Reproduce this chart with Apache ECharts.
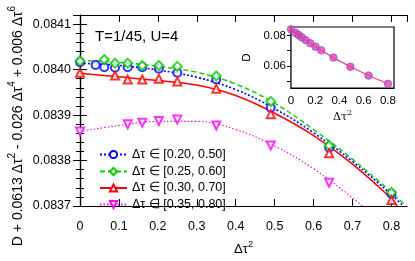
<!DOCTYPE html>
<html><head><meta charset="utf-8">
<script src="https://cdn.jsdelivr.net/npm/echarts@6/dist/echarts.min.js"></script>
<style>html,body{margin:0;padding:0;background:#fff}#c{width:415px;height:261px}</style>
</head><body><div id="c"></div>
<script>
// ---- data ----
const seriesNames = ['Δτ ∈ [0.20, 0.50]', 'Δτ ∈ [0.25, 0.60]', 'Δτ ∈ [0.30, 0.70]', 'Δτ ∈ [0.35, 0.80]'];
const blueX = [0, 0.04, 0.0625, 0.09, 0.1225, 0.16, 0.2025, 0.25, 0.35, 0.49, 0.64, 0.80];
const blueY = [0.084016, 0.08401, 0.084005, 0.084004, 0.084005, 0.084005, 0.084002, 0.083993, 0.083978, 0.083916, 0.083828, 0.083727];
const greenX = [0, 0.0625, 0.09, 0.1225, 0.16, 0.2025, 0.25, 0.35, 0.49, 0.64, 0.80];
const greenY = [0.084019, 0.084022, 0.084014, 0.084014, 0.084009, 0.084009, 0.084007, 0.083986, 0.08393, 0.083833, 0.08373];
const redX = [0, 0.09, 0.1225, 0.16, 0.2025, 0.25, 0.35, 0.49, 0.64, 0.80];
const redY = [0.083993, 0.083987, 0.083978, 0.083978, 0.08398, 0.083974, 0.083958, 0.083902, 0.083816, 0.083713];
const pinkX = [0, 0.1225, 0.16, 0.2025, 0.25, 0.35, 0.49, 0.64];
const pinkY = [0.083864, 0.08388, 0.083883, 0.083887, 0.08389, 0.083877, 0.083833, 0.083751];
// fit curves
const blueCurveX = [0, 0.1, 0.2, 0.3, 0.4, 0.5, 0.6, 0.7, 0.8, 0.83];
const blueCurveY = [0.084014, 0.084009, 0.083999, 0.083983, 0.083956, 0.083914, 0.083861, 0.083798, 0.083725, 0.0837];
const greenCurveX = [0, 0.1, 0.2, 0.3, 0.4, 0.5, 0.6, 0.7, 0.8, 0.838];
const greenCurveY = [0.08402, 0.084016, 0.084007, 0.083994, 0.083968, 0.083926, 0.083868, 0.083803, 0.08373, 0.0837];
const redCurveX = [0, 0.1, 0.2, 0.3, 0.4, 0.5, 0.6, 0.7, 0.8, 0.815];
const redCurveY = [0.083992, 0.083984, 0.083976, 0.083966, 0.083943, 0.083904, 0.083855, 0.083792, 0.083716, 0.0837];
const pinkCurveX = [0, 0.1, 0.2, 0.3, 0.4, 0.5, 0.6, 0.7, 0.725];
const pinkCurveY = [0.083864, 0.083877, 0.083886, 0.083886, 0.083868, 0.083832, 0.083782, 0.083718, 0.0837];
// inset: D vs dtau^2
const insetX = [0, 0.04, 0.0625, 0.09, 0.1225, 0.16, 0.2025, 0.25, 0.35, 0.49, 0.64, 0.80];
const insetD = [0.08399, 0.0816, 0.08027, 0.07868, 0.07685, 0.07481, 0.07258, 0.07018, 0.06543, 0.0594, 0.05366, 0.04824];
const insetXTicks = [0, 0.2, 0.4, 0.6, 0.8];
const insetYLabels = [0.06, 0.08];
const insetYTicks = [0.05, 0.06, 0.07, 0.08];

const zip = (xs, ys) => xs.map((x, i) => [x, ys[i]]);
const FONT = 'Liberation Sans';
const chart = echarts.init(document.getElementById('c'), null, {renderer: 'canvas'});

const colors = ['#0000ff', '#00cc00', '#ff0000', '#ff00ff'];
const symbols = ['emptyCircle', 'emptyDiamond', 'emptyTriangle', 'emptyTriangle'];
const symSizes = [8, 9, 8, 8];
const rot = [0, 0, 0, 180];
const lineTypes = [[2, 2], [5, 3], 'solid', [1.5, 2]];
const lineWidths = [1.6, 1.4, 1.5, 1.1];
const pts = [zip(blueX, blueY), zip(greenX, greenY), zip(redX, redY), zip(pinkX, pinkY)];
const curves = [zip(blueCurveX, blueCurveY), zip(greenCurveX, greenCurveY), zip(redCurveX, redCurveY), zip(pinkCurveX, pinkCurveY)];

const series = [];
for (let i = 0; i < 4; i++) {
  series.push({
    name: seriesNames[i], type: 'line', xAxisIndex: 0, yAxisIndex: 0,
    data: curves[i], smooth: 0.4, showSymbol: false, symbol: symbols[i], symbolRotate: rot[i],
    lineStyle: {color: colors[i], width: lineWidths[i], type: lineTypes[i]},
    itemStyle: {color: colors[i]}, z: 2, silent: true, clip: true
  });
}
for (let i = 0; i < 4; i++) {
  series.push({
    name: seriesNames[i], type: 'scatter', xAxisIndex: 0, yAxisIndex: 0,
    data: pts[i], symbol: symbols[i], symbolRotate: rot[i], symbolSize: symSizes[i],
    itemStyle: {color: colors[i], borderWidth: 1.2}, z: 3
  });
}
// inset
series.push({type: 'line', xAxisIndex: 2, yAxisIndex: 2, data: zip(insetX, insetD), showSymbol: false,
  lineStyle: {color: '#ff3399', width: 1.2}, z: 5});
series.push({type: 'scatter', xAxisIndex: 2, yAxisIndex: 2, data: zip(insetX, insetD), symbol: 'circle', symbolSize: 7.5,
  itemStyle: {color: '#f0409a', borderColor: '#6a5cff', borderWidth: 1}, z: 6});

const legendTops = [143, 160, 176.5, 193];
const legends = seriesNames.map((n, i) => ({
  data: [n], orient: 'vertical', left: 94, top: legendTops[i], itemWidth: 27, itemHeight: 9,
  textStyle: {fontFamily: FONT, fontSize: 12.5, color: '#000'}, selectedMode: false
}));

const tickStyle = {lineStyle: {color: '#000', width: 1}};
const rich = (fs, ss, lh) => ({n: {fontFamily: FONT, fontSize: fs, fill: '#000', color: '#000', verticalAlign: 'bottom', lineHeight: lh},
                             s: {fontFamily: FONT, fontSize: ss, fill: '#000', color: '#000', verticalAlign: 'top', lineHeight: lh}});
const option = {
  animation: false,
  backgroundColor: '#fff',
  textStyle: {fontFamily: FONT},
  grid: [
    {left: 80, top: 15, width: 327, height: 203, show: false},
    {left: 291, top: 27, width: 103, height: 61, show: true, backgroundColor: '#fff', borderColor: '#000', borderWidth: 1.2, z: 4}
  ],
  legend: legends,
  xAxis: [
    {gridIndex: 0, type: 'value', min: 0, max: 0.84, interval: 0.1, position: 'bottom',
     axisLine: {show: true, lineStyle: {color: '#000', width: 1.2}},
     axisTick: {show: true, inside: true, length: 7, ...tickStyle},
     axisLabel: {fontFamily: FONT, fontSize: 12.5, color: '#000', margin: 14, showMaxLabel: false,
       formatter: v => v === 0 ? '0' : v.toFixed(1)},
     splitLine: {show: false},
     name: '{n|Δτ}{s|2}', nameLocation: 'middle', nameGap: 34,
     nameTextStyle: {rich: rich(13, 9, 16)}},
    {gridIndex: 0, type: 'value', min: 0, max: 0.84, interval: 0.1, position: 'top',
     axisLine: {show: true, lineStyle: {color: '#000', width: 1.2}},
     axisTick: {show: true, inside: true, length: 7, ...tickStyle}, axisLabel: {show: false}, splitLine: {show: false}},
    {gridIndex: 1, type: 'value', min: 0, max: 0.85, position: 'bottom',
     axisLine: {show: true, lineStyle: {color: '#000', width: 1.2}},
     axisTick: {show: true, inside: true, length: 4, customValues: insetXTicks, ...tickStyle},
     axisLabel: {fontFamily: FONT, fontSize: 11.5, color: '#000', margin: 7, customValues: insetXTicks,
       formatter: v => v === 0 ? '0' : v.toFixed(1)},
     splitLine: {show: false},
     name: '{n|Δτ}{s|2}', nameLocation: 'middle', nameGap: 21,
     nameTextStyle: {rich: {n: {fontFamily: 'DejaVu Serif', fontSize: 11, color: '#000', verticalAlign: 'bottom', lineHeight: 14},
                             s: {fontFamily: 'DejaVu Serif', fontSize: 8, color: '#000', verticalAlign: 'top', lineHeight: 14}}}},
    {gridIndex: 1, type: 'value', min: 0, max: 0.85, position: 'top',
     axisLine: {show: true, lineStyle: {color: '#000', width: 1.2}},
     axisTick: {show: true, inside: true, length: 4, customValues: insetXTicks, ...tickStyle},
     axisLabel: {show: false}, splitLine: {show: false}}
  ],
  yAxis: [
    {gridIndex: 0, type: 'value', min: 0.0837, max: 0.08412, interval: 0.0001, position: 'left',
     axisLine: {show: true, lineStyle: {color: '#000', width: 1.2}},
     axisTick: {show: true, inside: true, length: 7, ...tickStyle},
     minorTick: {show: true, splitNumber: 5, length: 4, lineStyle: {color: '#000', width: 1}},
     axisLabel: {fontFamily: FONT, fontSize: 12.5, color: '#000', margin: 9, showMaxLabel: false,
       formatter: v => v.toFixed(4)},
     splitLine: {show: false}},
    {gridIndex: 0, type: 'value', min: 0.0837, max: 0.08412, interval: 0.0001, position: 'right',
     axisLine: {show: true, lineStyle: {color: '#000', width: 1.2}},
     axisTick: {show: true, inside: true, length: 7, ...tickStyle},
     minorTick: {show: true, splitNumber: 5, length: 4, lineStyle: {color: '#000', width: 1}},
     axisLabel: {show: false}, splitLine: {show: false}},
    {gridIndex: 1, type: 'value', min: 0.0455, max: 0.0855, position: 'left',
     axisLine: {show: true, lineStyle: {color: '#000', width: 1.2}},
     axisTick: {show: true, inside: true, length: 4, customValues: insetYTicks, ...tickStyle},
     axisLabel: {fontFamily: FONT, fontSize: 11.5, color: '#000', margin: 5, customValues: insetYLabels,
       formatter: v => v.toFixed(2)},
     splitLine: {show: false},
     name: 'D', nameLocation: 'middle', nameGap: 38, nameRotate: 90,
     nameTextStyle: {fontFamily: FONT, fontSize: 11.5, color: '#000'}},
    {gridIndex: 1, type: 'value', min: 0.0455, max: 0.0855, position: 'right',
     axisLine: {show: true, lineStyle: {color: '#000', width: 1.2}},
     axisTick: {show: true, inside: true, length: 4, customValues: insetYTicks, ...tickStyle},
     axisLabel: {show: false}, splitLine: {show: false}}
  ],
  graphic: [
    {type: 'text', left: 95, top: 29, style: {text: 'T=1/45, U=4', fontFamily: FONT, fontSize: 15, fill: '#000'}},
    {type: 'text', x: 16, y: 126, rotation: Math.PI / 2,
     style: {text: '{n|D + 0.0613 Δτ}{s|2}{n| - 0.026 Δτ}{s|4}{n| + 0.006 Δτ}{s|6}',
             rich: rich(14, 10, 18), align: 'center', verticalAlign: 'middle', fill: '#000'}}
  ],
  series: series
};
chart.setOption(option);
</script></body></html>
